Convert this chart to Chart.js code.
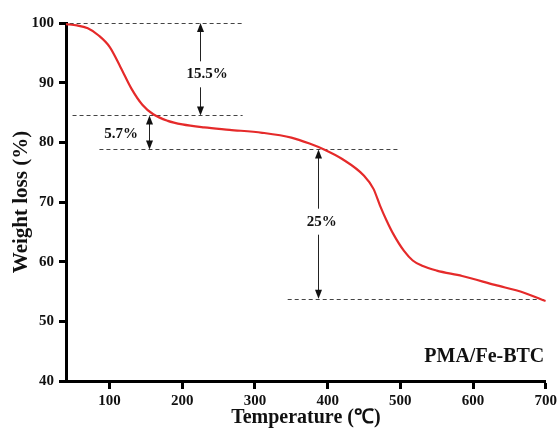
<!DOCTYPE html>
<html>
<head>
<meta charset="utf-8">
<script src="https://cdn.jsdelivr.net/npm/chart.js@4/dist/chart.umd.min.js"></script>
<style>
  html, body { margin: 0; padding: 0; background: #fff; }
  #wrap { width: 560px; height: 428px; position: relative; }
</style>
</head>
<body>
<div id="wrap"><canvas id="tga"></canvas></div>
<script>
//TGA curve of PMA/Fe-BTC, weight vs temperature, with the three
//step annotations (dashed levels + double arrows) drawn by a tiny
//plugin through the chart's own scales.

const TEMPS = [40, 55, 70, 85, 100, 115, 130, 145, 160, 180, 200, 230, 265, 310, 350, 375,
               395, 420, 450, 463, 472, 481, 490, 505, 517, 530, 550, 585, 630, 670, 700];
const WEIGHTS = [99.8, 99.6, 99.1, 97.9, 96.0, 92.6, 89.0, 86.3, 84.7, 83.6, 83.0, 82.5, 82.1, 81.6, 80.8, 79.8,
                 78.8, 77.2, 74.4, 72.2, 69.4, 66.9, 64.7, 61.8, 60.2, 59.3, 58.5, 57.6, 56.1, 54.8, 53.4];

const X_TICKS = [100, 200, 300, 400, 500, 600, 700];
const Y_TICKS = [40, 50, 60, 70, 80, 90, 100];

//dashed reference levels: weight, from T, to T
const LEVELS      = [100, 84.5, 78.8, 53.8];
const LEVEL_FROM  = [45, 49, 86, 345];
const LEVEL_TO    = [284, 283, 498, 700];

//double arrows: at T, from weight, to weight, label, label T, label weight
const ARROW_T       = [225, 154, 387];
const ARROW_TOP     = [100, 84.5, 78.8];
const ARROW_BOTTOM  = [84.5, 78.8, 53.8];
const ARROW_LABELS  = ['15.5%', '5.7%', '25%'];
const ARROW_LABEL_T = [234, 116, 392];
const ARROW_LABEL_W = [91.4, 81.3, 66.7];

const SAMPLE_LABEL = 'PMA/Fe-BTC';
const SAMPLE_POS   = [698, 44];

const SERIF = "'Liberation Serif', 'Times New Roman', Times, serif";
const INK = '#111';

function arrowHead(ctx, x, y, dir)
{
    ctx.beginPath();
    ctx.moveTo(x, y);
    ctx.lineTo(x - 3.5, y - dir * 9);
    ctx.lineTo(x + 3.5, y - dir * 9);
    ctx.closePath();
    ctx.fill();
}

const annotations = {
    id: 'tga-steps',
    beforeDatasetsDraw(chart)
    {
        const xs = chart.scales.x;
        const ys = chart.scales.y;
        const ctx = chart.ctx;
        ctx.save();

        ctx.strokeStyle = '#444';
        ctx.lineWidth = 1;
        ctx.setLineDash([4, 3]);
        LEVELS.forEach((w, i) =>
        {
            const y = Math.round(ys.getPixelForValue(w)) + 0.5;
            ctx.beginPath();
            ctx.moveTo(xs.getPixelForValue(LEVEL_FROM[i]), y);
            ctx.lineTo(xs.getPixelForValue(LEVEL_TO[i]), y);
            ctx.stroke();
        });
        ctx.setLineDash([]);

        ctx.font = `bold 15px ${SERIF}`;
        ctx.textAlign = 'center';
        ctx.textBaseline = 'middle';
        ARROW_T.forEach((t, i) =>
        {
            const x = Math.round(xs.getPixelForValue(t)) + 0.5;
            const y1 = ys.getPixelForValue(ARROW_TOP[i]);
            const y2 = ys.getPixelForValue(ARROW_BOTTOM[i]);
            const ly = ys.getPixelForValue(ARROW_LABEL_W[i]);
            const gap = 13;
            ctx.strokeStyle = '#222';
            ctx.fillStyle = '#111';
            ctx.lineWidth = 1;
            ctx.beginPath();
            if (ly - gap > y1 && ly + gap < y2 && Math.abs(ARROW_LABEL_T[i] - t) < 20)
            {
                ctx.moveTo(x, y1 + 4); ctx.lineTo(x, ly - gap);
                ctx.moveTo(x, ly + gap); ctx.lineTo(x, y2 - 4);
            }
            else
            {
                ctx.moveTo(x, y1 + 4); ctx.lineTo(x, y2 - 4);
            }
            ctx.stroke();
            arrowHead(ctx, x, y1, -1);
            arrowHead(ctx, x, y2, 1);
            ctx.fillStyle = INK;
            ctx.fillText(ARROW_LABELS[i], xs.getPixelForValue(ARROW_LABEL_T[i]), ly);
        });

        ctx.font = `bold 20px ${SERIF}`;
        ctx.textAlign = 'right';
        ctx.fillText(SAMPLE_LABEL, xs.getPixelForValue(SAMPLE_POS[0]), ys.getPixelForValue(SAMPLE_POS[1]));
        ctx.restore();
    },
};

const axisCommon = {
    type: 'linear',
    border: { display: true, color: '#000', width: 3 },
    grid: { drawOnChartArea: false, drawTicks: true, tickWidth: 3, tickColor: '#000' },
};

new Chart(document.getElementById('tga'), {
    type: 'line',
    data: {
        datasets: [{
            data: TEMPS.map((t, i) => ({ x: t, y: WEIGHTS[i] })),
            borderColor: '#e52a2a',
            borderWidth: 2.2,
            pointRadius: 0,
            fill: false,
            cubicInterpolationMode: 'monotone',
        }],
    },
    options: {
        responsive: true,
        maintainAspectRatio: false,
        animation: false,
        layout: { padding: { top: 23, right: 13, left: 0, bottom: 0 } },
        plugins: { legend: { display: false }, tooltip: { enabled: false } },
        scales: {
            x: {
                ...axisCommon,
                min: 40,
                max: 700,
                afterBuildTicks: (s) => { s.ticks = X_TICKS.map((v) => ({ value: v })); },
                afterFit: (s) => { s.height = 47; },
                grid: { ...axisCommon.grid, tickLength: 8 },
                ticks: { color: INK, padding: 3, maxRotation: 0, font: { family: SERIF, size: 15, weight: 'bold' } },
                title: {
                    display: true,
                    text: 'Temperature (℃)',
                    color: INK,
                    padding: { top: 0, bottom: 0 },
                    font: { family: SERIF, size: 20, weight: 'bold', lineHeight: 1 },
                },
            },
            y: {
                ...axisCommon,
                min: 40,
                max: 100,
                afterBuildTicks: (s) => { s.ticks = Y_TICKS.map((v) => ({ value: v })); },
                afterFit: (s) => { s.width = 66; },
                grid: { ...axisCommon.grid, tickLength: 7 },
                ticks: { color: INK, padding: 5, font: { family: SERIF, size: 15, weight: 'bold' } },
                title: {
                    display: true,
                    text: 'Weight loss (%)',
                    color: INK,
                    padding: { top: 11, bottom: 0 },
                    font: { family: SERIF, size: 21, weight: 'bold', lineHeight: 1 },
                },
            },
        },
    },
    plugins: [annotations],
});
</script>
</body>
</html>
